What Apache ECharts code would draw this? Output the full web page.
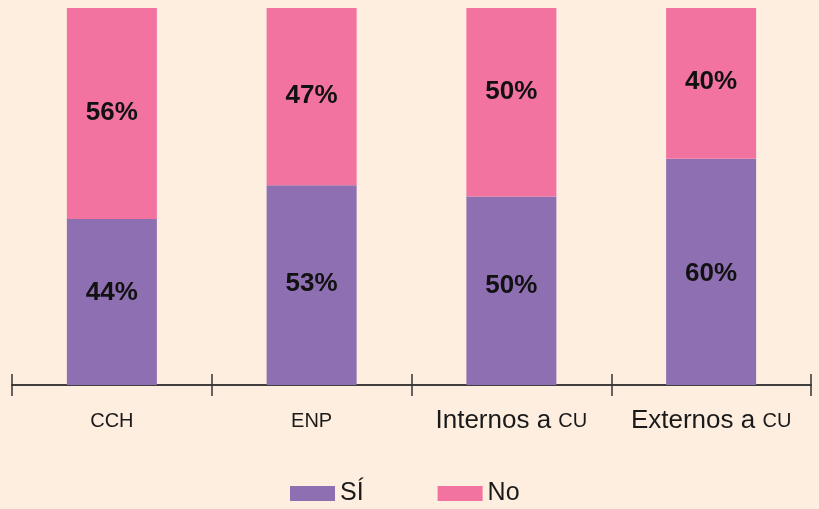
<!DOCTYPE html>
<html><head><meta charset="utf-8">
<script src="https://cdn.jsdelivr.net/npm/echarts@6/dist/echarts.min.js"></script>
<style>html,body{margin:0;padding:0;background:#FDEEE0;}#c{width:819px;height:509px;}</style>
</head><body><div id="c"></div>
<script>
const categories = ['CCH', 'ENP', 'Internos a CU', 'Externos a CU'];
const siValues = [44, 53, 50, 60];
const noValues = [56, 47, 50, 40];
const seriesNames = ['SÍ', 'No'];

// label vertical nudges (style only)
const siLabelShift = [-9, -1, -5, 2];
const noLabelShift = [-1, -1, -10, -2];

const chart = echarts.init(document.getElementById('c'));
const font = 'Liberation Sans, Arial, sans-serif';
function fmtCat(v) {
  if (v.endsWith(' CU')) return '{big|' + v.slice(0, -2) + '}{sm|CU}';
  return '{smc|' + v + '}';
}
const axisBase = {
  type: 'category', data: categories, position: 'bottom',
  axisLine: { show: true, lineStyle: { color: '#333', width: 1.5 } }
};
function withLabels(values, shifts) {
  return values.map((v, i) => ({ value: v, label: { offset: [0, shifts[i]] } }));
}
const labelStyle = { show: true, position: 'inside', formatter: '{c}%', fontSize: 26, fontWeight: 'bold', color: '#111', fontFamily: font };
chart.setOption({
  backgroundColor: '#FDEEE0',
  animation: false,
  grid: { left: 12, right: 8, top: 8, bottom: 124 },
  legend: {
    data: seriesNames, bottom: -2, left: 285,
    itemWidth: 45, itemHeight: 15, itemGap: 74,
    icon: 'rect',
    textStyle: { fontSize: 25, color: '#1a1a1a', fontFamily: font }
  },
  xAxis: [
    Object.assign({}, axisBase, {
      axisTick: { show: true, length: 11, inside: false, lineStyle: { color: '#333', width: 1.5 } },
      axisLabel: {
        margin: 23, color: '#1a1a1a', formatter: fmtCat,
        rich: {
          big: { fontSize: 26, fontFamily: font, color: '#1a1a1a' },
          sm: { fontSize: 20, fontFamily: font, color: '#1a1a1a' },
          smc: { fontSize: 20, fontFamily: font, color: '#1a1a1a', padding: [3, 0, 0, 0] }
        }
      }
    }),
    Object.assign({}, axisBase, {
      axisTick: { show: true, length: 11, inside: true, lineStyle: { color: '#333', width: 1.5 } },
      axisLabel: { show: false }
    })
  ],
  yAxis: { type: 'value', min: 0, max: 100, show: false, splitLine: { show: false } },
  series: [
    {
      name: seriesNames[0], type: 'bar', stack: 'a', data: withLabels(siValues, siLabelShift), barWidth: 90,
      itemStyle: { color: '#8E6FB1' },
      label: labelStyle
    },
    {
      name: seriesNames[1], type: 'bar', stack: 'a', data: withLabels(noValues, noLabelShift), barWidth: 90,
      itemStyle: { color: '#F273A0' },
      label: labelStyle
    }
  ]
});
</script></body></html>
